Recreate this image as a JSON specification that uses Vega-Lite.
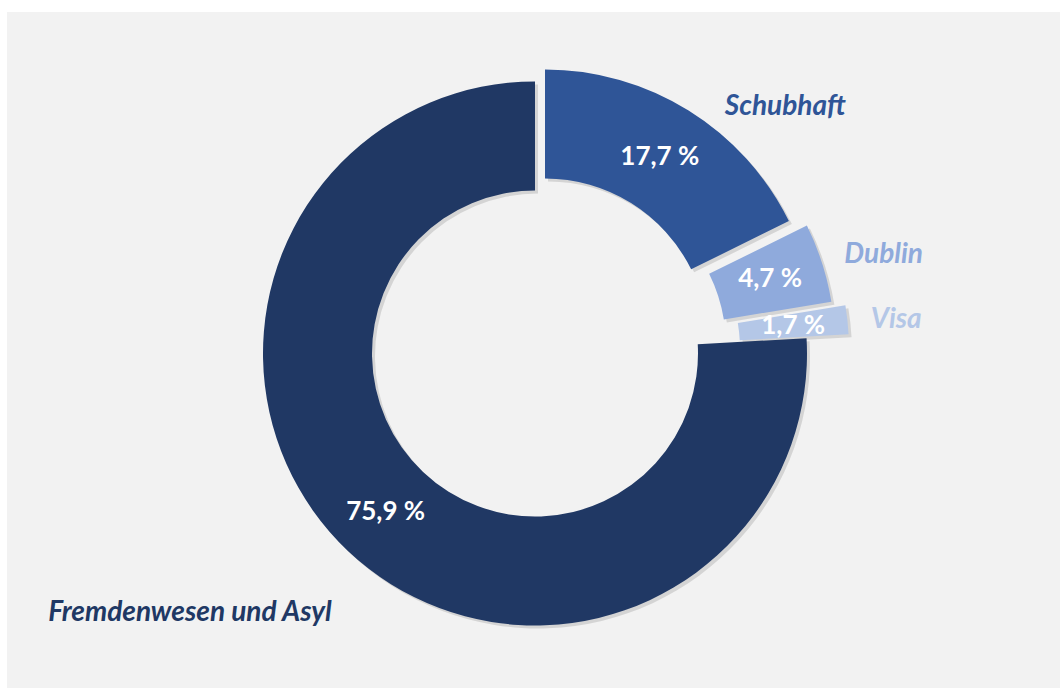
{
  "$schema": "https://vega.github.io/schema/vega-lite/v6.json",
  "width": 1060,
  "height": 688,
  "autosize": {"type": "fit", "contains": "padding"},
  "padding": {"left": 7, "top": 12, "right": 0, "bottom": 0},
  "background": "#ffffff",
  "config": {"view": {"stroke": null}},
  "data": {
    "values": [
      {"cat": "Schubhaft", "value": 17.7, "order": 1, "label": "17,7 %"},
      {"cat": "Dublin", "value": 4.7, "order": 2, "label": "4,7 %"},
      {"cat": "Visa", "value": 1.7, "order": 3, "label": "1,7 %"},
      {"cat": "Fremdenwesen und Asyl", "value": 75.9, "order": 4, "label": "75,9 %"}
    ]
  },
  "layer": [
    {
      "data": {"values": [{"panel": 1}]},
      "mark": {"type": "rect", "fill": "#f2f2f2"},
      "encoding": {
        "x": {"value": 0}, "x2": {"value": "width"},
        "y": {"value": 0}, "y2": {"value": "height"}
      }
    },
    {
      "encoding": {
        "theta": {"field": "value", "type": "quantitative", "stack": true, "scale": {"domain": [0, 100]}},
        "order": {"field": "order", "type": "quantitative"}
      },
      "layer": [
        {"mark": {"type": "arc", "innerRadius": 163, "outerRadius": 272, "fill": "#000000", "xOffset": 4.5, "yOffset": 6.5},
         "encoding": {"opacity": {"condition": {"test": "datum.cat === 'Fremdenwesen und Asyl'", "value": 0.12}, "value": 0}}},
        {"mark": {"type": "arc", "innerRadius": 163, "outerRadius": 272, "fill": "#000000", "xOffset": 14.5, "yOffset": -5.5},
         "encoding": {"opacity": {"condition": {"test": "datum.cat === 'Schubhaft'", "value": 0.12}, "value": 0}}},
        {"mark": {"type": "arc", "innerRadius": 163, "outerRadius": 272, "fill": "#000000", "xOffset": 32.5, "yOffset": -1},
         "encoding": {"opacity": {"condition": {"test": "datum.cat === 'Dublin'", "value": 0.12}, "value": 0}}},
        {"mark": {"type": "arc", "innerRadius": 163, "outerRadius": 272, "fill": "#000000", "xOffset": 46.5, "yOffset": 2.5},
         "encoding": {"opacity": {"condition": {"test": "datum.cat === 'Visa'", "value": 0.12}, "value": 0}}},

        {"mark": {"type": "arc", "innerRadius": 163, "outerRadius": 272, "fill": "#203864", "xOffset": 1.5, "yOffset": 3.5},
         "encoding": {"opacity": {"condition": {"test": "datum.cat === 'Fremdenwesen und Asyl'", "value": 1}, "value": 0}}},
        {"mark": {"type": "arc", "innerRadius": 163, "outerRadius": 272, "fill": "#2f5597", "xOffset": 11.5, "yOffset": -8.5},
         "encoding": {"opacity": {"condition": {"test": "datum.cat === 'Schubhaft'", "value": 1}, "value": 0}}},
        {"mark": {"type": "arc", "innerRadius": 163, "outerRadius": 272, "fill": "#8faadc", "xOffset": 29.5, "yOffset": -4},
         "encoding": {"opacity": {"condition": {"test": "datum.cat === 'Dublin'", "value": 1}, "value": 0}}},
        {"mark": {"type": "arc", "innerRadius": 163, "outerRadius": 272, "fill": "#b4c7e7", "xOffset": 43.5, "yOffset": -0.5},
         "encoding": {"opacity": {"condition": {"test": "datum.cat === 'Visa'", "value": 1}, "value": 0}}},

        {"mark": {"type": "text", "radius": 217.5, "xOffset": 1.5, "yOffset": 3.5, "font": "Lato", "fontSize": 26, "fontWeight": "bold", "color": "#ffffff", "align": "center", "baseline": "middle"},
         "encoding": {"text": {"field": "label"}, "opacity": {"condition": {"test": "datum.cat === 'Fremdenwesen und Asyl'", "value": 1}, "value": 0}}},
        {"mark": {"type": "text", "radius": 217.5, "xOffset": 11.5, "yOffset": -8.5, "font": "Lato", "fontSize": 26, "fontWeight": "bold", "color": "#ffffff", "align": "center", "baseline": "middle"},
         "encoding": {"text": {"field": "label"}, "opacity": {"condition": {"test": "datum.cat === 'Schubhaft'", "value": 1}, "value": 0}}},
        {"mark": {"type": "text", "radius": 217.5, "xOffset": 29.5, "yOffset": -4, "font": "Lato", "fontSize": 26, "fontWeight": "bold", "color": "#ffffff", "align": "center", "baseline": "middle"},
         "encoding": {"text": {"field": "label"}, "opacity": {"condition": {"test": "datum.cat === 'Dublin'", "value": 1}, "value": 0}}},
        {"mark": {"type": "text", "radius": 217.5, "xOffset": 43.5, "yOffset": -0.5, "font": "Lato", "fontSize": 26, "fontWeight": "bold", "color": "#ffffff", "align": "center", "baseline": "middle"},
         "encoding": {"text": {"field": "label"}, "opacity": {"condition": {"test": "datum.cat === 'Visa'", "value": 1}, "value": 0}}},

        {"mark": {"type": "text", "radius": 300, "xOffset": 1.5, "yOffset": 3.5, "dx": -139, "dy": 41, "font": "Lato", "fontSize": 28, "fontWeight": "bold", "fontStyle": "italic", "color": "#203864", "align": "center", "baseline": "middle"},
         "encoding": {"text": {"field": "cat"}, "opacity": {"condition": {"test": "datum.cat === 'Fremdenwesen und Asyl'", "value": 1}, "value": 0}}},
        {"mark": {"type": "text", "radius": 300, "xOffset": 11.5, "yOffset": -8.5, "dx": 82, "dy": 20, "font": "Lato", "fontSize": 28, "fontWeight": "bold", "fontStyle": "italic", "color": "#2f5597", "align": "center", "baseline": "middle"},
         "encoding": {"text": {"field": "cat"}, "opacity": {"condition": {"test": "datum.cat === 'Schubhaft'", "value": 1}, "value": 0}}},
        {"mark": {"type": "text", "radius": 300, "xOffset": 29.5, "yOffset": -4, "dx": 35, "dy": 1, "font": "Lato", "fontSize": 28, "fontWeight": "bold", "fontStyle": "italic", "color": "#8faadc", "align": "center", "baseline": "middle"},
         "encoding": {"text": {"field": "cat"}, "opacity": {"condition": {"test": "datum.cat === 'Dublin'", "value": 1}, "value": 0}}},
        {"mark": {"type": "text", "radius": 300, "xOffset": 43.5, "yOffset": -0.5, "dx": 21, "dy": 3.5, "font": "Lato", "fontSize": 28, "fontWeight": "bold", "fontStyle": "italic", "color": "#b4c7e7", "align": "center", "baseline": "middle"},
         "encoding": {"text": {"field": "cat"}, "opacity": {"condition": {"test": "datum.cat === 'Visa'", "value": 1}, "value": 0}}}
      ]
    }
  ]
}
